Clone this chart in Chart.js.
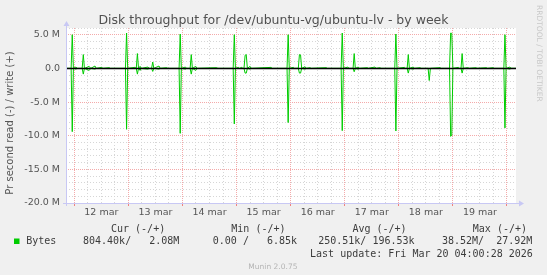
<!DOCTYPE html>
<html>
<head>
<meta charset="utf-8">
<script src="https://cdn.jsdelivr.net/npm/chart.js@4.4.1/dist/chart.umd.min.js"></script>
<style>
    html, body { margin: 0; padding: 0; background: #f0f0f0; }
    #wrap { width: 547px; height: 275px; }
</style>
</head>
<body>
<div id="wrap"><canvas id="graficoDisco" width="547" height="275"></canvas></div>
<script>
    // tempo em horas a partir de 12 mar 00:00
    const horas = [
        -3.7, -1.4, -0.9, -0.4, 0.75, 1.25, 3.5, 4.0, 4.5, 6.6, 7.3, 9.2, 9.7, 12.2, 12.7, 15.5, 16.0,
        22.7, 23.2, 23.7, 26.9, 27.5, 28.0, 28.5, 29.2, 29.7, 32.7, 33.2, 34.3, 34.8, 35.3, 37.6, 38.1, 41.0, 41.5,
        46.5, 47.0, 47.5, 49.3, 49.8, 51.4, 51.9, 52.4, 53.9, 54.4, 63.2, 63.7,
        70.5, 71.0, 71.5, 72.8, 73.3, 74.3, 74.8, 75.3, 75.8, 76.3, 76.8, 78.0, 78.5, 87.3, 87.8,
        94.4, 94.9, 95.4, 97.2, 97.7, 99.4, 99.9, 100.4, 100.9, 102.4, 102.9, 104.6, 105.1, 111.8, 112.3,
        118.4, 118.9, 119.4, 121.4, 121.9, 123.7, 124.2, 124.7, 126.0, 126.5, 130.0, 130.5, 133.4, 133.9, 135.6, 136.1,
        142.2, 142.7, 143.2, 146.5, 147.0, 147.7, 148.2, 148.7, 150.4, 150.9, 153.4, 153.9, 157.0, 157.5, 158.0, 162.3, 162.8,
        166.5, 167.0, 167.5, 168.0, 170.4, 170.9, 171.6, 172.1, 172.6, 174.7, 175.2, 178.2, 178.7, 182.9, 183.4, 185.8, 186.3,
        190.6, 191.1, 191.6, 193.3, 193.8, 196.3
    ];
    // write (+), em M bytes/s
    const escrita = [
        0, 0, 5.0, 0, 0.2, 0, 0, 2.05, 0, 0.3, 0, 0.35, 0, 0.15, 0, 0.1, 0,
        0, 5.25, 0, 0.15, 0, 2.2, 0, 0.3, 0, 0.2, 0, 0, 0.95, 0, 0.35, 0, 0.1, 0,
        0, 5.1, 0, 0.2, 0, 0, 2.05, 0, 0.3, 0, 0.1, 0,
        0, 5.0, 0, 0.15, 0, 0.15, 0, 0, 1.95, 2.05, 0, 0.3, 0, 0.15, 0,
        0, 5.0, 0, 0.15, 0, 0, 2.05, 2.0, 0, 0.25, 0, 0.1, 0, 0.1, 0,
        0, 5.25, 0, 0.2, 0, 0, 2.2, 0, 0.2, 0, 0.1, 0, 0.2, 0, 0.1, 0,
        0, 5.1, 0, 0.15, 0, 0, 2.05, 0, 0.2, 0, 0.1, 0, 0, 0, 0, 0.1, 0,
        0, 5.25, 5.2, 0, 0.15, 0, 0, 2.2, 0, 0.1, 0, 0.1, 0, 0.1, 0, 0.1, 0,
        0, 5.0, 0, 0.2, 0, 0
    ];
    // read (-), em M bytes/s
    const leitura = [
        0, 0, 9.4, 0, 0.1, 0, 0, 0.85, 0, 0.3, 0, 0.1, 0, 0, 0, 0, 0,
        0, 9.05, 0, 0, 0, 0.85, 0, 0.3, 0, 0.1, 0, 0, 0.45, 0, 0.1, 0, 0, 0,
        0, 9.65, 0, 0.1, 0, 0, 0.85, 0, 0.3, 0, 0, 0,
        0, 8.25, 0, 0, 0, 0, 0, 0, 0.7, 0.7, 0, 0.1, 0, 0, 0,
        0, 8.05, 0, 0, 0, 0, 0.7, 0.7, 0, 0.1, 0, 0, 0, 0, 0,
        0, 9.25, 0, 0, 0, 0, 0.5, 0, 0.1, 0, 0, 0, 0, 0, 0, 0,
        0, 9.3, 0, 0, 0, 0, 0.7, 0, 0.1, 0, 0, 0, 0, 1.8, 0, 0, 0,
        0, 10.1, 9.9, 0, 0, 0, 0, 0.7, 0, 0, 0, 0, 0, 0, 0, 0, 0,
        0, 8.85, 0, 0.1, 0, 0
    ];
    const dias = ['12 mar', '13 mar', '14 mar', '15 mar', '16 mar', '17 mar', '18 mar', '19 mar'];
    const valoresY = [5, 0, -5, -10, -15, -20];
    const rotulosY = ['5.0 M', '0.0', '-5.0 M', '-10.0 M', '-15.0 M', '-20.0 M'];

    const cabecalho = ['Cur (-/+)', 'Min (-/+)', 'Avg (-/+)', 'Max (-/+)'];
    const valoresLegenda = ['804.40k/   2.08M', '0.00 /   6.85k', '250.51k/ 196.53k', '38.52M/  27.92M'];

    const xMin = -3.68, xMax = 196.0;

    const verde = '#00cc00';
    const cinzaGrade = '#d6d6d6';
    const vermelhoGrade = '#f4aaaa';

    const muninPlugin = {
        id: 'munin',
        beforeDraw(chart) {
            const ctx = chart.ctx, a = chart.chartArea;
            ctx.save();
            ctx.fillStyle = '#f0f0f0';
            ctx.fillRect(0, 0, chart.width, chart.height);
            ctx.fillStyle = '#ffffff';
            ctx.fillRect(a.left, a.top, a.right - a.left, a.bottom - a.top);
            ctx.restore();
        },
        afterDraw(chart) {
            const ctx = chart.ctx, a = chart.chartArea;
            ctx.save();
            // eixos com setas
            ctx.strokeStyle = '#c8c8f4';
            ctx.fillStyle = '#c8c8f4';
            ctx.lineWidth = 1;
            ctx.beginPath();
            ctx.moveTo(a.left + 0.5, a.bottom + 3);
            ctx.lineTo(a.left + 0.5, a.top - 4);
            ctx.moveTo(a.left - 3, a.bottom + 0.5);
            ctx.lineTo(a.right + 4, a.bottom + 0.5);
            ctx.stroke();
            ctx.beginPath();
            ctx.moveTo(a.left - 2.5, a.top - 2);
            ctx.lineTo(a.left + 3.5, a.top - 2);
            ctx.lineTo(a.left + 0.5, a.top - 7);
            ctx.closePath();
            ctx.fill();
            ctx.beginPath();
            ctx.moveTo(a.right + 3, a.bottom - 2.5);
            ctx.lineTo(a.right + 3, a.bottom + 3.5);
            ctx.lineTo(a.right + 8, a.bottom + 0.5);
            ctx.closePath();
            ctx.fill();

            // titulo
            ctx.fillStyle = '#505050';
            ctx.font = '12.5px "DejaVu Sans"';
            ctx.textAlign = 'center';
            ctx.textBaseline = 'alphabetic';
            ctx.fillText('Disk throughput for /dev/ubuntu-vg/ubuntu-lv - by week', 273.5, 23.5);

            // titulo do eixo y
            ctx.save();
            ctx.translate(10.5, 123);
            ctx.rotate(-Math.PI / 2);
            ctx.fillStyle = '#555';
            ctx.font = '10px "DejaVu Sans"';
            ctx.textBaseline = 'middle';
            ctx.fillText('Pr second read (-) / write (+)', 0, 0);
            ctx.restore();

            // marca rrdtool
            ctx.save();
            ctx.translate(538.5, 5);
            ctx.rotate(Math.PI / 2);
            ctx.fillStyle = '#c8c8c8';
            ctx.font = '7.5px "DejaVu Sans"';
            ctx.textAlign = 'left';
            ctx.textBaseline = 'middle';
            ctx.fillText('RRDTOOL / TOBI OETIKER', 0, 0);
            ctx.restore();

            // legenda
            ctx.font = '10px "DejaVu Sans Mono"';
            ctx.fillStyle = '#3c3c3c';
            ctx.textAlign = 'left';
            ctx.textBaseline = 'middle';
            const colunas = [111, 231.3, 352.4, 472.8];
            const colunasVal = [83, 212.8, 318.2, 442];
            cabecalho.forEach((t, i) => ctx.fillText(t, colunas[i], 229.2));
            ctx.fillText('Bytes', 26.2, 241.4);
            valoresLegenda.forEach((t, i) => ctx.fillText(t, colunasVal[i], 241.4));
            ctx.textAlign = 'right';
            ctx.fillText('Last update: Fri Mar 20 04:00:28 2026', 532.8, 254.3);
            ctx.fillStyle = verde;
            ctx.fillRect(14, 238.5, 5.5, 5.5);

            ctx.fillStyle = '#b4b4b4';
            ctx.font = '7.5px "DejaVu Sans"';
            ctx.textAlign = 'center';
            ctx.fillText('Munin 2.0.75', 272.9, 267.2);
            ctx.restore();
        }
    };

    function criargraficodisco(canvasID) {
        const ctx = document.getElementById(canvasID).getContext('2d');

        new Chart(ctx, {
            type: 'line',
            data: {
                datasets: [{
                    label: 'zero',
                    data: [{x: xMin, y: 0}, {x: xMax, y: 0}],
                    borderColor: '#000000',
                    borderWidth: 1.5,
                    pointRadius: 0,
                    order: -1
                }, {
                    label: 'write',
                    data: horas.map((h, i) => ({x: h, y: escrita[i]})),
                    borderColor: verde,
                    borderWidth: 1,
                    pointRadius: 0,
                    tension: 0
                }, {
                    label: 'read',
                    data: horas.map((h, i) => ({x: h, y: -leitura[i]})),
                    borderColor: verde,
                    borderWidth: 1,
                    pointRadius: 0,
                    tension: 0
                }]
            },
            options: {
                responsive: false,
                animation: false,
                layout: { padding: { top: 28, right: 31, left: 0, bottom: 0 } },
                plugins: {
                    legend: { display: false },
                    tooltip: { enabled: false },
                    title: { display: false }
                },
                scales: {
                    x: {
                        type: 'linear',
                        min: xMin,
                        max: xMax,
                        afterFit: function(s) { s.height = 72; },
                        ticks: {
                            stepSize: 6,
                            autoSkip: false,
                            maxRotation: 0,
                            includeBounds: false,
                            padding: 1,
                            color: '#555',
                            font: { family: 'DejaVu Sans', size: 9.5 },
                            callback: function(v) {
                                if (((v % 24) + 24) % 24 === 12) return dias[(v - 12) / 24] || '';
                                return '';
                            }
                        },
                        grid: {
                            color: c => (c.tick && c.tick.value % 24 === 0) ? vermelhoGrade : cinzaGrade,
                            lineWidth: 1,
                            drawTicks: true,
                            tickLength: 3,
                            tickColor: c => (c.tick && c.tick.value % 24 === 0) ? '#f08080' : 'rgba(0,0,0,0)'
                        },
                        border: {
                            display: false,
                            dash: c => (c.tick && c.tick.value % 24 === 0) ? [1, 1] : [1, 2]
                        }
                    },
                    y: {
                        min: -20,
                        max: 6,
                        afterFit: function(s) { s.width = 66; },
                        ticks: {
                            stepSize: 1,
                            autoSkip: false,
                            includeBounds: false,
                            padding: 6,
                            color: '#555',
                            font: { family: 'DejaVu Sans', size: 9.5 },
                            callback: function(v) {
                                const i = valoresY.indexOf(v);
                                return i >= 0 ? rotulosY[i] : '';
                            }
                        },
                        grid: {
                            color: c => (c.tick && c.tick.value % 5 === 0) ? vermelhoGrade : cinzaGrade,
                            lineWidth: 1,
                            drawTicks: false
                        },
                        border: {
                            display: false,
                            dash: c => (c.tick && c.tick.value % 5 === 0) ? [1, 1] : [1, 2]
                        }
                    }
                }
            },
            plugins: [muninPlugin]
        });
    }

    criargraficodisco('graficoDisco');
</script>
</body>
</html>
